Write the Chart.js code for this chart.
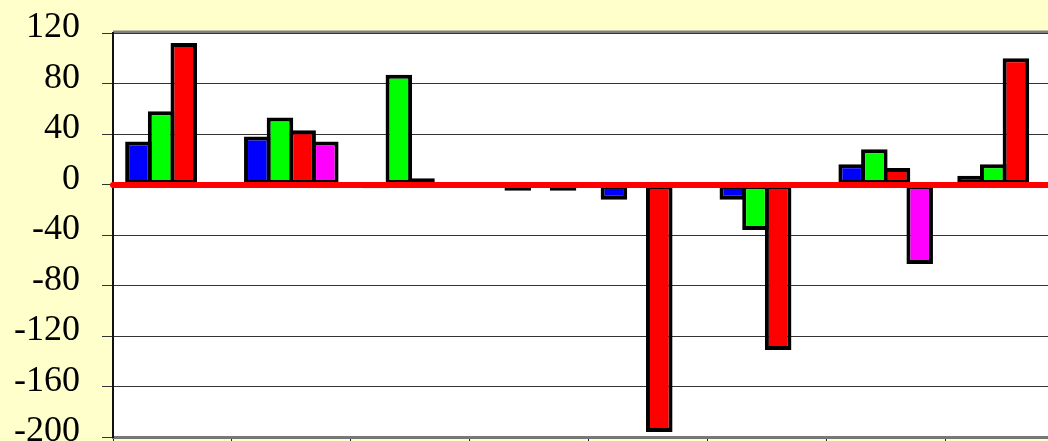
<!DOCTYPE html>
<html>
<head>
<meta charset="utf-8">
<script src="https://cdn.jsdelivr.net/npm/chart.js@4"></script>
<style>
  html, body { margin: 0; padding: 0; background: #ffffcc; }
  #frame { width: 1048px; height: 441px; overflow: hidden; background: #ffffcc; }
  #box { width: 1064px; height: 467px; }
</style>
</head>
<body>
<div id="frame"><div id="box"><canvas id="chart"></canvas></div></div>
<script>
const categories = ["1", "2", "3", "4", "5", "6", "7", "8"];
const blueVals = [34, 38, -3, 0, -12, -12, 16, 7];
const greenVals = [58, 53, 87, -5, 0, -36, 28, 16];
const redVals = [112, 43, 5, 0, -196, -131, 13, 100];
const magentaVals = [2, 34, 0, -5, 0, 0, -63, 0];
const yTicks = [-200, -160, -120, -80, -40, 0, 40, 80, 120];

// white plot area, grey top edge, red zero line on top of the bars
const plotArea = {
  id: "plotArea",
  beforeDraw(chart) {
    const { ctx, chartArea: a } = chart;
    ctx.save();
    ctx.fillStyle = "#ffffff";
    ctx.fillRect(a.left, a.top, a.right - a.left, a.bottom - a.top);
    ctx.strokeStyle = "#808080";
    ctx.lineWidth = 3;
    ctx.beginPath();
    ctx.moveTo(a.left, a.top - 1);
    ctx.lineTo(a.right, a.top - 1);
    ctx.stroke();
    ctx.restore();
  },
  afterDatasetsDraw(chart) {
    const { ctx, chartArea: a } = chart;
    const y0 = chart.scales.y.getPixelForValue(0);
    ctx.save();
    ctx.strokeStyle = "#ff0000";
    ctx.lineWidth = 6;
    ctx.lineCap = "round";
    ctx.beginPath();
    ctx.moveTo(a.left, y0 + 0.5);
    ctx.lineTo(a.right + 10, y0 + 0.5);
    ctx.stroke();
    ctx.restore();
  }
};

function barSet(label, data, color) {
  return {
    label: label,
    data: data,
    backgroundColor: color,
    borderColor: "#000000",
    borderWidth: 4,
    borderSkipped: false,
    categoryPercentage: 0.763,
    barPercentage: 1.17
  };
}

new Chart(document.getElementById("chart"), {
  type: "bar",
  data: {
    labels: categories,
    datasets: [
      barSet("Blue", blueVals, "#0000ff"),
      barSet("Green", greenVals, "#00ff00"),
      barSet("Red", redVals, "#ff0000"),
      barSet("Magenta", magentaVals, "#ff00ff")
    ]
  },
  options: {
    responsive: true,
    maintainAspectRatio: false,
    animation: false,
    layout: { padding: { top: 33, left: 0, right: 0, bottom: 0 } },
    plugins: {
      legend: { display: false },
      tooltip: { enabled: false }
    },
    scales: {
      x: {
        ticks: { display: false },
        grid: {
          drawOnChartArea: false,
          drawTicks: true,
          tickLength: 30,
          tickColor: "#222222",
          offset: true
        },
        border: { display: true, color: "#777777", width: 3 }
      },
      y: {
        min: -200,
        max: 120,
        afterBuildTicks: (scale) => {
          scale.ticks = yTicks.map((v) => ({ value: v }));
        },
        afterFit: (scale) => {
          scale.width = 113;
          scale.paddingTop = 0;
          scale.paddingBottom = 0;
        },
        ticks: {
          color: "#000000",
          padding: 22,
          labelOffset: -5,
          font: { family: "'Liberation Serif', 'Times New Roman', serif", size: 36 }
        },
        grid: {
          color: (c) => (c.tick && c.tick.value === 0 ? "rgba(0,0,0,0)" : "#333333"),
          tickColor: "#333333",
          tickLength: 11,
          lineWidth: 1
        },
        border: { display: true, color: "#111111", width: 2 }
      }
    }
  },
  plugins: [plotArea]
});
</script>
</body>
</html>
